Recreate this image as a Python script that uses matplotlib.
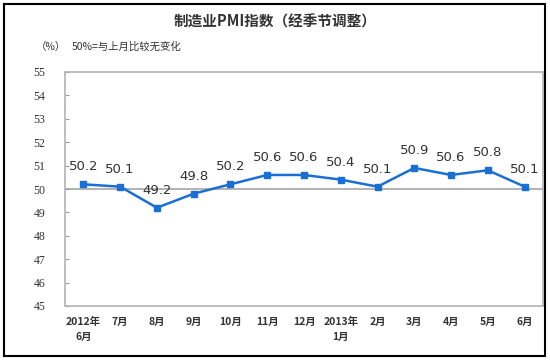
import matplotlib
matplotlib.use('Agg')
from matplotlib import pyplot as plt
from matplotlib.patches import Rectangle

plt.rcParams['font.family'] = ['Noto Sans CJK SC', 'DejaVu Sans']

# Data
months = ['2012年\n6月', '7月', '8月', '9月', '10月', '11月', '12月',
          '2013年\n1月', '2月', '3月', '4月', '5月', '6月']
pmi = [50.2, 50.1, 49.2, 49.8, 50.2, 50.6, 50.6, 50.4, 50.1, 50.9, 50.6, 50.8, 50.1]
yticks = [45, 46, 47, 48, 49, 50, 51, 52, 53, 54, 55]

fig = plt.figure(figsize=(5.5, 3.62), dpi=100)
W, H = 550, 362
ax = fig.add_axes([65 / W, 1 - 306 / H, 478 / W, (306 - 72) / H])

x = list(range(len(pmi)))
ax.axhline(50, color='#a6a6a6', linewidth=1.2, zorder=1)
ax.plot(x, pmi, color='#1a6fd4', linewidth=1.8, marker='s', markersize=4.5, zorder=3)

for xi, v in zip(x, pmi):
    ax.annotate(f'{v:.1f}', (xi, v), xytext=(0, 8), textcoords='offset points',
                ha='center', va='bottom', fontsize=9.5, color='#333333',
                family=['DejaVu Sans'])

ax.set_xlim(-0.5, len(pmi) - 0.5)
ax.set_ylim(45, 55)
ax.set_yticks(yticks)
ax.set_yticklabels([str(t) for t in yticks], fontsize=8.5, family=['Liberation Serif'],
                   color='#333333')
ax.set_xticks(x)
ax.set_xticklabels(months, fontsize=7.5, fontweight='bold', linespacing=1.6,
                   color='#333333')

for s in ax.spines.values():
    s.set_color('#b3b3b3')
    s.set_linewidth(1.2)
ax.tick_params(axis='y', direction='in', length=3, color='#999999', pad=14)
ax.tick_params(axis='x', length=0, pad=8)

fig.text(0.5, 1 - 22 / H, '制造业PMI指数（经季节调整）', ha='center', va='center',
         fontsize=10.5, fontweight='bold', color='#333333')
fig.text(36 / W, 1 - 47 / H, '（%）', ha='left', va='center', fontsize=7.5, color='#333333')
fig.text(72 / W, 1 - 47 / H, '50%=与上月比较无变化', ha='left', va='center',
         fontsize=7.5, color='#333333')

fig.patches.append(Rectangle((4 / W, 1 - 356 / H), 541 / W, 352 / H,
                             transform=fig.transFigure, fill=False,
                             edgecolor='black', linewidth=1.5))

plt.savefig('out.png', dpi=100)
